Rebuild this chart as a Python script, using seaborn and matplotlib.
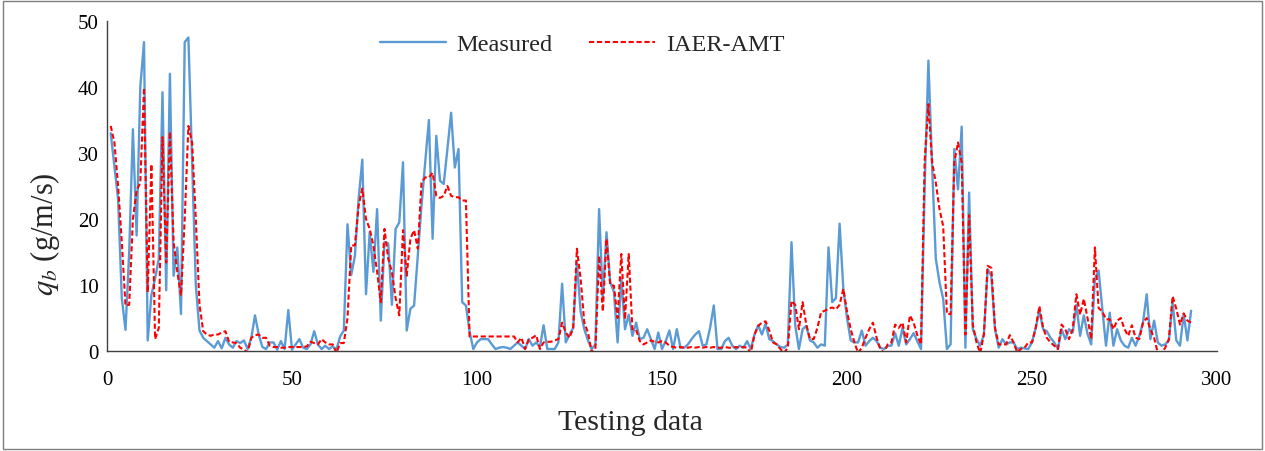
import numpy as np
import pandas as pd
import matplotlib
matplotlib.use("Agg")
import matplotlib.pyplot as plt
import seaborn as sns
from matplotlib.patches import Rectangle

measured = [
    33, 28, 23, 8, 3.2, 15, 33.6, 17.5, 40, 46.8,
    1.6, 8.5, 11, 14, 39.2, 9.2, 42, 11.4, 15.7, 5.6,
    46.8, 47.5, 29, 10, 3.1, 2.0, 1.5, 1.0, 0.5, 1.5,
    0.4, 2.0, 1.0, 0.5, 1.5, 1.2, 1.6, 0.3, 2.0, 5.4,
    2.5, 0.6, 0.3, 1.3, 1.3, 0.2, 1.5, 0.3, 6.2, 0.2,
    1.0, 1.8, 0.5, 0.3, 1.0, 3.0, 1.0, 0.3, 0.8, 0.3,
    0.7, 0.2, 2.2, 3.1, 19.2, 11.5, 14.4, 23, 29, 8.6,
    18, 12, 21.5, 4.6, 16.5, 16.3, 7, 18.5, 19.5, 28.6,
    3.1, 6.4, 6.9, 14.4, 22, 28.6, 35, 17, 32.6, 25.8,
    25.3, 30.6, 36.1, 27.8, 30.6, 7.4, 6.9, 2.9, 0.3, 1.3,
    1.8, 1.8, 1.8, 1.0, 0.3, 0.5, 0.6, 0.5, 0.3, 0.8,
    1.3, 0.8, 0.3, 1.8, 0.8, 1.3, 0.6, 3.9, 0.3, 0.3,
    0.3, 1.3, 10.2, 1.3, 2.5, 3.5, 13.4, 6.0, 3.3, 1.6,
    0.3, 1.0, 21.5, 8.0, 18.0, 10.4, 9.0, 1.3, 11.0, 3.3,
    5.5, 2.3, 4.3, 1.8, 2.0, 3.3, 1.8, 0.3, 2.8, 0.3,
    1.5, 3.1, 0.3, 3.3, 0.5, 0.5, 1.0, 1.8, 2.5, 3.0,
    0.8, 1.0, 3.5, 6.9, 0.3, 0.3, 1.5, 2.0, 0.8, 0.3,
    0.8, 0.5, 1.5, 0.3, 2.5, 3.9, 2.5, 4.1, 1.8, 1.5,
    1.0, 0.6, 0.5, 1.0, 16.5, 3.9, 0.3, 3.3, 3.8, 1.6,
    1.3, 0.5, 1.0, 0.8, 15.7, 7.4, 8.0, 19.3, 9.5, 5.0,
    1.6, 1.3, 1.3, 3.1, 0.8, 1.5, 2.0, 1.5, 0.5, 0.3,
    0.8, 0.8, 2.7, 0.8, 3.5, 1.0, 1.8, 2.7, 1.5, 0.3,
    25, 44, 28, 14, 10.4, 7.9, 0.3, 1.0, 30.6, 24.5,
    34, 0.5, 24, 3.3, 1.8, 0.8, 2.5, 12.4, 11.4, 3.3,
    0.5, 1.8, 1.0, 1.3, 1.3, 0.3, 0.5, 0.4, 0.3, 1.3,
    3.5, 6.1, 3.3, 3.0, 2.0, 1.3, 0.3, 3.3, 1.8, 3.3,
    2.8, 7.0, 2.3, 5.4, 2.6, 1.0, 10.9, 12.2, 6.4, 0.8,
    5.8, 0.8, 3.3, 1.6, 0.8, 0.5, 2.0, 0.8, 2.3, 4.3,
    8.6, 1.8, 4.6, 1.3, 0.8, 1.0, 1.6, 7.4, 1.6, 0.8,
    5.6, 1.6, 6.1,
]

predicted = [
    34.1, 31.6, 25, 16.5, 6.9, 7, 20, 24.3, 25.5, 39.9,
    8.9, 28.3, 1.8, 3.5, 32.4, 13.4, 33.2, 16.5, 12, 8.4,
    20, 34.1, 31.6, 20, 7, 3, 2.5, 2.3, 2.5, 2.5,
    2.8, 3.0, 1.4, 1.3, 1.2, 0.5, 0.2, -0.2, 2.0, 2.4,
    2.5, 2.0, 2.0, 0.8, 0.6, 0.6, 0.5, 0.5, 0.6, 0.6,
    0.6, 0.6, 0.6, 0.7, 1.4, 1.2, 1.0, 1.8, 1.3, 1.0,
    1.0, -0.3, 1.2, 1.2, 5, 16, 16, 22, 24.6, 20,
    18.5, 16, 12, 7.4, 18.5, 14, 12, 8, 5.4, 18.3,
    11.4, 17, 18.3, 15.5, 25.5, 26.3, 26.3, 27, 23.5, 23.2,
    23.5, 25, 23.5, 23.3, 23.3, 22.8, 22.8, 2.2, 2.2, 2.2,
    2.2, 2.2, 2.2, 2.2, 2.2, 2.2, 2.2, 2.2, 2.2, 2.2,
    1.3, 2.0, 0.3, 1.8, 2.0, 2.4, 0.3, 1.3, 1.4, 1.4,
    1.6, 1.8, 4.3, 2.8, 2.0, 3.5, 15.5, 11, 4.3, 2.8,
    -0.2, 0.3, 14.4, 6, 17, 10, 9.9, 5, 14.7, 4.8,
    14.7, 3.3, 3.2, 1.5, 1.0, 1.3, 1.6, 1.4, 1.3, 1.5,
    1.3, 0.8, 0.6, 0.5, 0.6, 0.5, 0.5, 0.6, 0.5, 0.6,
    0.5, 0.6, 0.5, 0.6, 0.5, 0.5, 0.6, 0.5, 0.5, 0.6,
    0.5, 0.6, 0.5, -0.3, 2.5, 3.8, 4.3, 4.5, 3.1, 1.3,
    1.0, 0.3, -0.3, 0.5, 7.6, 7.0, 3.3, 7.4, 4.0, 1.8,
    1.8, 3.5, 5.9, 6.1, 6.4, 6.6, 6.3, 7.0, 9.4, 6.0,
    3.3, 1.3, -0.3, 0.5, 2.0, 3.3, 4.3, 2.0, 0.3, -0.3,
    1.0, 1.3, 4.0, 3.5, 4.3, 1.3, 5.4, 4.3, 2.4, 1.0,
    29, 37.4, 28.6, 25.5, 21.5, 18.9, 5.6, 5.6, 28.6, 31.6,
    28.6, 2.5, 20.6, 4.0, 1.3, -0.3, 2.5, 12.9, 12.6, 3.5,
    1.0, 1.0, 1.0, 2.4, 1.3, -0.2, 0.3, 0.5, 1.3, 1.3,
    3.5, 6.8, 3.5, 2.0, 1.3, 0.8, 0.3, 4.0, 3.3, 1.8,
    3.3, 8.6, 5.5, 7.9, 5.0, 1.8, 15.7, 6.5, 6.0, 4.8,
    4.8, 3.3, 4.6, 5.0, 3.3, 2.3, 3.9, 2.0, 1.8, 4.3,
    5.0, 3.3, 2.0, -0.3, -0.3, 0.5, 1.8, 8.3, 6.4, 4.0,
    5.7, 4.6, 4.3,
]

x_ticks = [0, 50, 100, 150, 200, 250, 300]
y_ticks = [0, 10, 20, 30, 40, 50]
series_names = ["Measured", "IAER-AMT"]

n = len(measured)
idx = np.arange(1, n + 1)
df = pd.DataFrame({"i": idx, "Measured": measured, "IAER-AMT": predicted})

sns.set_theme(style="white")
plt.rcParams["font.family"] = ["Liberation Serif", "DejaVu Serif"]
plt.rcParams["mathtext.fontset"] = "stix"

fig = plt.figure(figsize=(12.65, 4.52), dpi=100)
ax = fig.add_axes([107 / 1265, 1 - 352 / 452, 1110 / 1265, 330 / 452])

sns.lineplot(data=df, x="i", y="Measured", ax=ax, color="#5B9BD5",
             linewidth=1.7, label=series_names[0])
sns.lineplot(data=df, x="i", y="IAER-AMT", ax=ax, color="#FF0000",
             linewidth=1.5, linestyle=(0, (2.5, 1.3)), label=series_names[1])

ax.set_xlim(0, 300)
ax.set_ylim(0, 50)
ax.set_xticks(x_ticks)
ax.set_yticks(y_ticks)
ax.tick_params(axis="both", labelsize=15, colors="black", length=4,
               direction="out", width=0.8)
ax.tick_params(axis="y", length=0, pad=6)
ax.tick_params(axis="x", pad=10)

for s in ["top", "right"]:
    ax.spines[s].set_visible(False)
for s in ["left", "bottom"]:
    ax.spines[s].set_color("#404040")
    ax.spines[s].set_linewidth(1.0)

ax.set_xlabel("Testing data", fontsize=21.5)
ax.set_ylabel(r"$q_b$ (g/m/s)", fontsize=22)
ax.xaxis.set_label_coords((630 - 107) / 1110, (352 - 410) / 330)
ax.yaxis.set_label_coords((62 - 107) / 1110, (352 - 234) / 330)

ax.legend(loc="center", bbox_to_anchor=(0.428, 0.93), ncol=2, frameon=False,
          fontsize=17.5, handlelength=2.7, columnspacing=1.5, handletextpad=0.45)

fig.patches.append(Rectangle((0.002, 0.004), 0.996, 0.992, transform=fig.transFigure,
                             fill=False, edgecolor="#7f7f7f", linewidth=1.0))

fig.savefig("out.png", dpi=100)
